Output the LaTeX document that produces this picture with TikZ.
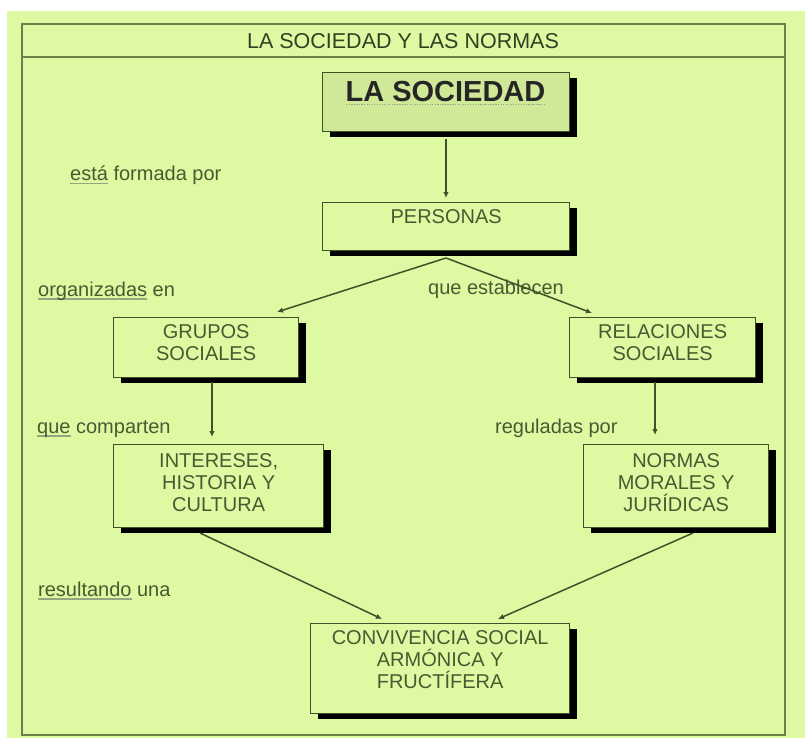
\documentclass[tikz,border=0pt]{standalone}
\usepackage{fontspec}
\setmainfont{Liberation Sans}
\usetikzlibrary{shadows,arrows.meta,calc}
\definecolor{bg}{RGB}{221,249,162}
\definecolor{frm}{RGB}{105,128,72}
\definecolor{txt}{RGB}{72,90,50}
\definecolor{edge}{RGB}{62,82,42}
\definecolor{lsfill}{RGB}{207,233,152}
\definecolor{sq}{RGB}{150,165,128}
\newcommand\spw[1]{\setbox0\hbox{#1}\rlap{\textcolor{sq}{\rule[-3.5pt]{\wd0}{1.3pt}}}\box0\relax}
\newcommand\dtw[1]{\setbox0\hbox{#1}\rlap{\textcolor{sq}{\raisebox{-3pt}{\hbox to \wd0{\xleaders\hbox to 2.5pt{\hss\rule{1.2pt}{1.2pt}\hss}\hfill}}}}\box0\relax}
\begin{document}
\begin{tikzpicture}[x=1pt,y=-1pt,
  box/.style={draw=edge, line width=1.3pt, fill=bg, anchor=north west, inner sep=0pt,
    drop shadow={shadow xshift=7pt, shadow yshift=-5pt, fill=black, opacity=1}},
  btxt/.style={anchor=north, inner sep=0pt, align=center, text=txt,
    font=\fontsize{20}{22}\selectfont},
  lbl/.style={anchor=base west, inner sep=0pt, text=txt, font=\fontsize{20}{22}\selectfont},
  conn/.style={draw=edge, line width=1.5pt, -{Latex[length=6pt,width=5.5pt]}},
  line/.style={draw=edge, line width=1.5pt}
]
\useasboundingbox (0,0) rectangle (805,738);
\fill[white] (0,0) rectangle (805,738);
\fill[bg] (7,11) rectangle (805,738);
\draw[frm, line width=2pt] (22,24) rectangle (785,735);
\draw[frm, line width=2pt] (22,57) -- (785,57);
\node[anchor=base, inner sep=0pt, text=txt!70!black, font=\fontsize{21.5}{24}\selectfont] (title) at (403,49) {LA SOCIEDAD Y LAS NORMAS};

% boxes
\node[box, fill=lsfill, minimum width=247pt, minimum height=59pt] (ls) at (322,72) {};
\node[anchor=base, inner sep=0pt, text=black!85, font=\fontsize{29}{32}\bfseries] (lst) at (445.5,102) {\dtw{LA SOCIEDAD}};

\node[box, minimum width=247pt, minimum height=48pt] (pers) at (322,202) {};
\node[btxt] (perst) at ($(pers.north)+(0,7)$) {PERSONAS};

\node[box, minimum width=185pt, minimum height=60pt] (grup) at (113,317) {};
\node[btxt] (grupt) at ($(grup.north)+(0,7)$) {GRUPOS\\SOCIALES};

\node[box, minimum width=186pt, minimum height=60pt] (rel) at (569,317) {};
\node[btxt] (relt) at ($(rel.north)+(0,7)$) {RELACIONES\\SOCIALES};

\node[box, minimum width=210pt, minimum height=83pt] (int) at (113,444) {};
\node[btxt] (intt) at ($(int.north)+(0,9)$) {INTERESES,\\HISTORIA Y\\CULTURA};

\node[box, minimum width=185pt, minimum height=83pt] (norm) at (583,444) {};
\node[btxt] (normt) at ($(norm.north)+(0,9)$) {NORMAS\\MORALES Y\\JURÍDICAS};

\node[box, minimum width=259pt, minimum height=90pt] (conv) at (310,623) {};
\node[btxt] (convt) at ($(conv.north)+(0,7)$) {CONVIVENCIA SOCIAL\\ARMÓNICA Y\\FRUCTÍFERA};

% labels
\node[lbl] (l1) at (70,181) {\spw{está} formada por};
\node[lbl] (l2) at (38,296) {\spw{organizadas} en};
\node[lbl] (l3) at (428,294) {que establecen};
\node[lbl] (l4) at (37,433) {\spw{que} comparten};
\node[lbl] (l5) at (495,433) {reguladas por};
\node[lbl] (l6) at (38,596) {\spw{resultando} una};

% connector end points
\coordinate (lsout) at (446,139);
\coordinate (persin) at (446,198);
\coordinate (split) at (446,258);
\coordinate (gin) at (277,312);
\coordinate (rin) at (592,313);
\coordinate (gout) at (212,382);
\coordinate (iin) at (212,437);
\coordinate (rout) at (655,382);
\coordinate (nin) at (655,435);
\coordinate (iout) at (200,533);
\coordinate (nout) at (693,533);
\coordinate (cinl) at (382,619);
\coordinate (cinr) at (498,619);
\draw[conn] (lsout) -- (persin);
\draw[conn] (split) -- (gin);
\draw[conn] (split) -- (rin);
\draw[conn] (gout) -- (iin);
\draw[conn] (rout) -- (nin);
\draw[conn] (iout) -- (cinl);
\draw[conn] (nout) -- (cinr);
\end{tikzpicture}
\end{document}
